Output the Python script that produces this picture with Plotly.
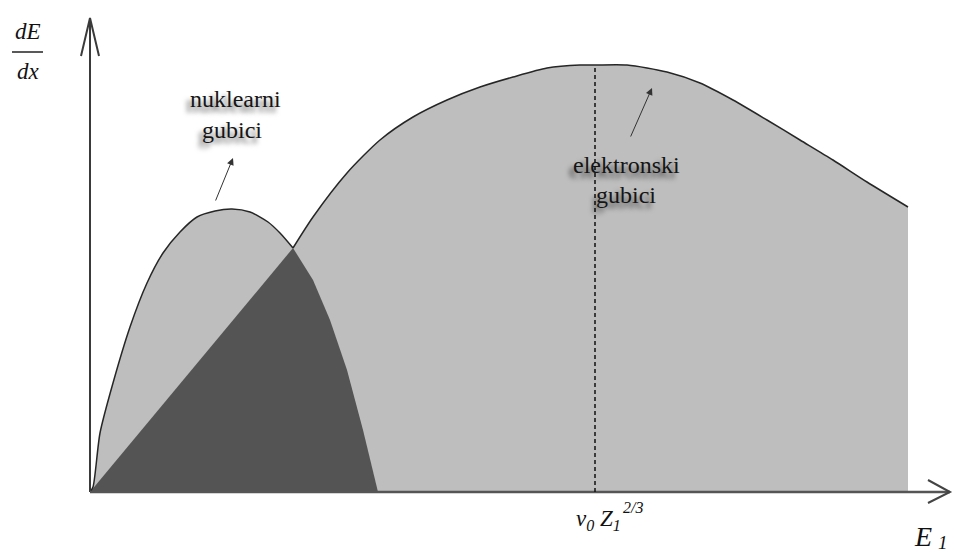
import plotly.graph_objects as go

# curves (energy on x, stopping power on y, arbitrary units)
nuc_x = [0, 3, 10, 23, 40, 57, 73, 90, 107, 125, 142, 160, 178, 190, 203, 223, 240, 257, 273, 288]
nuc_y = [0, 5, 59, 109, 165, 209, 239, 260, 275, 281, 283, 280, 270, 259, 244, 212, 172, 122, 62, 0]

el_x = [0, 203, 223, 257, 290, 323, 357, 390, 423, 457, 490, 505, 537, 577, 610, 643, 677, 710, 743, 777, 818]
el_y = [0, 244, 275, 319, 352, 375, 392, 405, 415, 424, 427, 427, 427, 420, 409, 392, 372, 352, 332, 310, 285]

cross = 14          # index of the crossing point in the nuclear curve
e_peak = 505        # v0 Z1^(2/3)

LIGHT = '#bebebe'
DARK = '#545454'
LINE = '#262626'
SERIF = 'Liberation Serif, Times New Roman, serif'

# overlap: electronic below the crossing, nuclear above it
ov_x = el_x[:2] + nuc_x[cross + 1:]
ov_y = el_y[:2] + nuc_y[cross + 1:]

fig = go.Figure()

fig.add_trace(go.Scatter(x=el_x, y=el_y, fill='tozeroy', fillcolor=LIGHT, mode='none',
                         line=dict(shape='spline', smoothing=0.7), hoverinfo='skip'))
fig.add_trace(go.Scatter(x=nuc_x, y=nuc_y, fill='tozeroy', fillcolor=LIGHT, mode='none',
                         line=dict(shape='spline', smoothing=0.7), hoverinfo='skip'))
fig.add_trace(go.Scatter(x=ov_x, y=ov_y, fill='tozeroy', fillcolor=DARK,
                         mode='none', hoverinfo='skip'))

# outer envelope lines
fig.add_trace(go.Scatter(x=nuc_x[:cross + 1], y=nuc_y[:cross + 1], mode='lines',
                         line=dict(color=LINE, width=1.5, shape='spline', smoothing=0.7),
                         hoverinfo='skip'))
fig.add_trace(go.Scatter(x=el_x[1:], y=el_y[1:], mode='lines',
                         line=dict(color=LINE, width=1.5, shape='spline', smoothing=0.7),
                         hoverinfo='skip'))

shapes = [
    # y axis + open arrowhead
    dict(type='line', x0=0, y0=0, x1=0, y1=474, line=dict(color='#3a3a3a', width=2)),
    dict(type='path', path='M -9,436 L 0,474 L 9,436', line=dict(color='#3a3a3a', width=2)),
    # x axis + open arrowhead
    dict(type='line', x0=0, y0=0, x1=860, y1=0, line=dict(color='#555555', width=2.5)),
    dict(type='path', path='M 838,12 L 860,0 L 838,-11', line=dict(color='#444444', width=2)),
    # peak marker
    dict(type='line', x0=e_peak, y0=0, x1=e_peak, y1=427,
         line=dict(color='#111111', width=1.5, dash='4px,3px')),
    # fraction bar of dE/dx
    dict(type='line', x0=-78, y0=440, x1=-47, y1=440, line=dict(color='#222222', width=1.5)),
]

shadow = '-4px 5px 5px rgba(0,0,0,0.6)'
lbl = dict(family=SERIF, size=24, color='#151515', shadow=shadow)
math = dict(family=SERIF, size=23, color='#111111')

annotations = [
    dict(x=-62, y=461, text='<i>dE</i>', font=math),
    dict(x=-62, y=421, text='<i>dx</i>', font=math),
    dict(x=833, y=-44, text='<i>E</i>', font=dict(family=SERIF, size=28, color='#111111')),
    dict(x=853, y=-50, text='<i>1</i>', font=dict(family=SERIF, size=19, color='#111111')),
    dict(x=508, y=-28, text='<i>v</i><sub><i>0</i></sub> <i>Z</i><sub><i>1</i></sub>', font=math),
    dict(x=543, y=-15, text='<i>2/3</i>', font=dict(family=SERIF, size=16, color='#111111')),
    dict(x=145, y=393, text='nuklearni', font=lbl),
    dict(x=142, y=362, text='gubici', font=lbl),
    dict(x=536, y=327, text='elektronski', font=lbl),
    dict(x=536, y=297, text='gubici', font=lbl),
    # pointer arrows
    dict(x=143, y=334, ax=125, ay=290, axref='x', ayref='y', text='', showarrow=True,
         arrowhead=2, arrowsize=1.4, arrowwidth=1, arrowcolor='#333333'),
    dict(x=562, y=404, ax=540, ay=354, axref='x', ayref='y', text='', showarrow=True,
         arrowhead=2, arrowsize=1.4, arrowwidth=1, arrowcolor='#333333'),
]
for a in annotations:
    a.setdefault('showarrow', False)
    a.setdefault('xref', 'x')
    a.setdefault('yref', 'y')

fig.update_layout(
    width=955, height=552,
    margin=dict(l=0, r=0, t=0, b=0),
    paper_bgcolor='white', plot_bgcolor='white',
    showlegend=False,
    xaxis=dict(range=[-90, 865], visible=False, fixedrange=True),
    yaxis=dict(range=[-60, 492], visible=False, fixedrange=True),
    shapes=shapes,
    annotations=annotations,
)

fig.write_html("out.html", config={'displayModeBar': False},
               post_script="document.body.style.margin='0';")
